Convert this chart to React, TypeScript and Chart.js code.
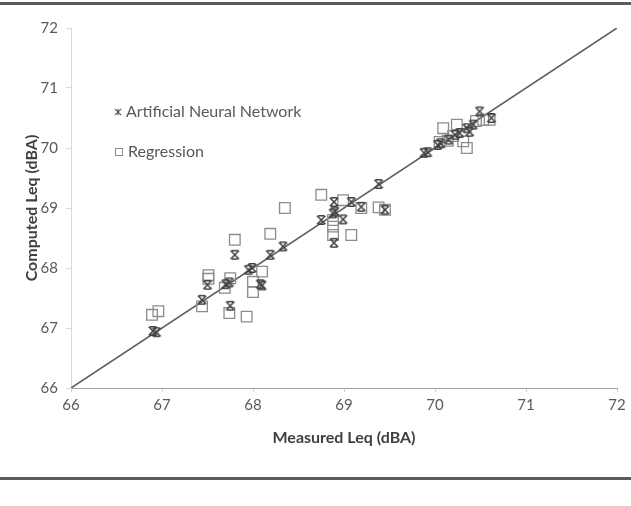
import React, { useEffect, useRef } from "react";
import { Chart, registerables } from "chart.js";

Chart.register(...registerables);

const axisTicks = [66, 67, 68, 69, 70, 71, 72];

const annMeasured = [66.90, 66.94, 67.44, 67.50, 67.75, 67.70, 67.74, 67.80, 67.95, 67.99, 68.08, 68.10, 68.19, 68.33, 68.75, 68.88, 68.90, 68.89, 68.89, 68.99, 69.08, 69.19, 69.38, 69.45, 69.88, 69.92, 70.03, 70.06, 70.15, 70.22, 70.27, 70.35, 70.42, 70.38, 70.49, 70.62];
const annComputed = [66.95, 66.93, 67.47, 67.72, 67.37, 67.73, 67.76, 68.22, 67.97, 68.00, 67.73, 67.71, 68.22, 68.36, 68.80, 68.91, 68.94, 69.10, 68.42, 68.81, 69.10, 69.02, 69.40, 68.97, 69.92, 69.93, 70.05, 70.08, 70.14, 70.22, 70.25, 70.33, 70.39, 70.27, 70.61, 70.50];

const regMeasured = [66.89, 66.96, 67.44, 67.51, 67.51, 67.69, 67.75, 67.74, 67.80, 67.93, 68.00, 68.00, 68.10, 68.19, 68.35, 68.75, 68.88, 68.88, 68.88, 68.99, 69.08, 69.19, 69.38, 69.45, 70.05, 70.09, 70.14, 70.24, 70.31, 70.35, 70.53, 70.60, 70.45, 70.20];
const regComputed = [67.22, 67.28, 67.36, 67.88, 67.82, 67.67, 67.83, 67.25, 68.47, 67.19, 67.77, 67.60, 67.94, 68.57, 69.00, 69.22, 68.80, 68.69, 68.55, 69.13, 68.55, 69.00, 69.01, 68.97, 70.10, 70.33, 70.12, 70.39, 70.11, 70.00, 70.47, 70.47, 70.45, 70.20];

const lineX = [66, 72];
const lineY = [66, 72];

const legendLabels = ["Artificial Neural Network", "Regression"];
const xTitle = "Measured Leq (dBA)";
const yTitle = "Computed Leq (dBA)";

const FONT = "Lato, 'Open Sans', sans-serif";

function drawStar(ctx: CanvasRenderingContext2D, x: number, y: number, s: number, color: string, lw: number, bars: boolean) {
  ctx.save();
  ctx.strokeStyle = color;
  ctx.lineWidth = lw;
  ctx.beginPath();
  ctx.moveTo(x - s, y - s);
  ctx.lineTo(x + s, y + s);
  ctx.moveTo(x + s, y - s);
  ctx.lineTo(x - s, y + s);
  if (bars) {
    ctx.moveTo(x - s * 0.7, y - s);
    ctx.lineTo(x + s * 0.7, y - s);
    ctx.moveTo(x - s * 0.7, y + s);
    ctx.lineTo(x + s * 0.7, y + s);
  } else {
    ctx.moveTo(x, y - s);
    ctx.lineTo(x, y + s);
  }
  ctx.stroke();
  ctx.restore();
}

function makeStarCanvas(): HTMLCanvasElement {
  const c = document.createElement("canvas");
  c.width = 12;
  c.height = 12;
  const ctx = c.getContext("2d")!;
  drawStar(ctx, 6, 6, 4.2, "#404040", 1.5, true);
  return c;
}

const framePlugin = {
  id: "frame",
  beforeDraw(chart: any) {
    const ctx = chart.ctx as CanvasRenderingContext2D;
    ctx.save();
    ctx.fillStyle = "#ffffff";
    ctx.fillRect(0, 0, chart.width, chart.height);
    ctx.fillStyle = "#5a5a5a";
    ctx.fillRect(0, 2, chart.width, 3);
    ctx.fillRect(0, 477, chart.width, 3);
    ctx.restore();
  },
  afterDraw(chart: any) {
    const ctx = chart.ctx as CanvasRenderingContext2D;
    ctx.save();
    drawStar(ctx, 118, 112, 3.2, "#555555", 1.1, false);
    ctx.strokeStyle = "#8a8a8a";
    ctx.lineWidth = 1;
    ctx.strokeRect(115.5, 148.5, 7, 7);
    ctx.fillStyle = "#595959";
    ctx.font = `16px ${FONT}`;
    ctx.textBaseline = "middle";
    ctx.textAlign = "left";
    ctx.fillText(legendLabels[0], 126, 112);
    ctx.fillText(legendLabels[1], 128, 152);
    ctx.restore();
  },
};

export default function App() {
  const ref = useRef<HTMLCanvasElement>(null);
  useEffect(() => {
    if (!ref.current) return;
    const star = makeStarCanvas();
    const chart = new Chart(ref.current, {
      type: "scatter",
      data: {
        datasets: [
          {
            type: "line",
            label: "fit",
            data: lineX.map((x, i) => ({ x, y: lineY[i] })),
            borderColor: "#5f5f5f",
            borderWidth: 1.6,
            pointRadius: 0,
            order: 3,
          } as any,
          {
            label: legendLabels[1],
            data: regMeasured.map((x, i) => ({ x, y: regComputed[i] })),
            pointStyle: "rect",
            pointRadius: 7.5,
            borderColor: "#8c8c8c",
            backgroundColor: "rgba(0,0,0,0)",
            borderWidth: 1.3,
            order: 2,
          },
          {
            label: legendLabels[0],
            data: annMeasured.map((x, i) => ({ x, y: annComputed[i] })),
            pointStyle: star as any,
            pointRadius: 6,
            order: 1,
          },
        ],
      },
      options: {
        responsive: false,
        animation: false,
        events: [],
        layout: { padding: { left: 22, right: 14, top: 28, bottom: 59 } },
        plugins: { legend: { display: false }, tooltip: { enabled: false } },
        scales: {
          x: {
            type: "linear",
            min: 66,
            max: 72,
            afterBuildTicks: (s: any) => {
              s.ticks = axisTicks.map((v) => ({ value: v }));
            },
            afterFit: (s: any) => {
              s.height = 59;
            },
            ticks: { color: "#595959", font: { family: FONT, size: 15 }, padding: 4 },
            grid: { display: true, drawOnChartArea: false, drawTicks: true, tickLength: 4, color: "#d0d0d0" },
            border: { display: true, color: "#a0a0a0", dash: [1, 2] },
            title: {
              display: true,
              text: xTitle,
              color: "#404040",
              font: { family: FONT, size: 16, weight: "bold" },
              padding: { top: 6, bottom: 0 },
            },
          },
          y: {
            type: "linear",
            min: 66,
            max: 72,
            afterBuildTicks: (s: any) => {
              s.ticks = axisTicks.map((v) => ({ value: v }));
            },
            afterFit: (s: any) => {
              s.width = 49;
            },
            ticks: { color: "#595959", font: { family: FONT, size: 15 }, padding: 8 },
            grid: { display: true, drawOnChartArea: false, drawTicks: true, tickLength: 5, color: "#d9d9d9" },
            border: { display: true, color: "#d9d9d9" },
            title: {
              display: true,
              text: yTitle,
              color: "#404040",
              font: { family: FONT, size: 16, weight: "bold" },
              padding: { top: 0, bottom: 0 },
            },
          },
        },
      },
      plugins: [framePlugin],
    });
    return () => chart.destroy();
  }, []);
  return (
    <div style={{ position: "absolute", left: 0, top: 0, width: 631, height: 506 }}>
      <canvas ref={ref} width={631} height={506} />
    </div>
  );
}
